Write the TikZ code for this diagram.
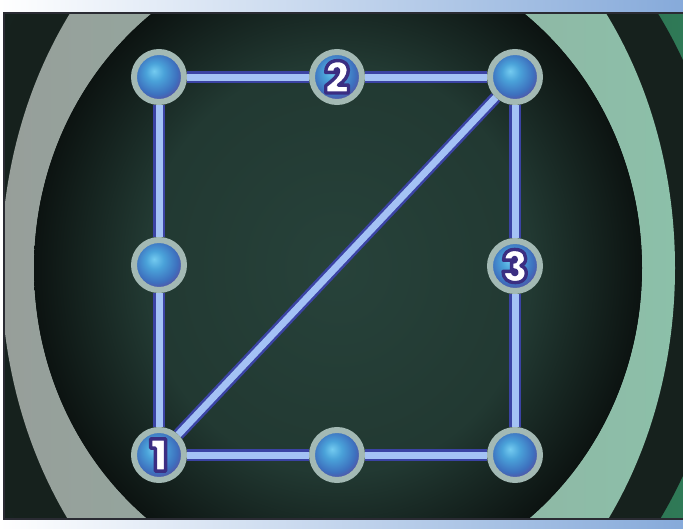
\documentclass[tikz,border=0pt]{standalone}
\usepackage{fontspec}
\newfontfamily\numfont{Poppins Black}
\definecolor{outerdark}{HTML}{16211D}
\definecolor{outergreen}{HTML}{2F7A57}
\definecolor{ringgrey}{HTML}{979E9A}
\definecolor{ringteal}{HTML}{8CC0A9}
\definecolor{holecore}{HTML}{27423A}
\definecolor{holeedge}{HTML}{0C1311}
\definecolor{rim}{HTML}{A3B9B4}
\definecolor{orbhi}{HTML}{74CBF0}
\definecolor{orbmid}{HTML}{4AA2D9}
\definecolor{orblow}{HTML}{3D70BE}
\definecolor{orbedge}{HTML}{5B4C9E}
\definecolor{tubeedge}{HTML}{3B43A4}
\definecolor{tubecore}{HTML}{A4C2F5}
\definecolor{stripblue}{HTML}{86AADA}
\definecolor{framedark}{HTML}{2A2B33}
\pgfdeclareradialshading{orb}{\pgfpoint{-5bp}{6bp}}{color(0bp)=(orbhi); color(9bp)=(orbmid); color(21bp)=(orblow); color(28bp)=(orbedge); color(50bp)=(orbedge)}
\pgfdeclareradialshading{hole}{\pgfpoint{0bp}{0bp}}{color(0bp)=(holecore); color(16bp)=(holecore!80!holeedge); color(25bp)=(holeedge); color(50bp)=(holeedge)}
\pgfdeclarelayer{back}
\pgfdeclarelayer{tubes}
\pgfsetlayers{back,tubes,main}
\tikzset{
  ball/.style={circle, minimum size=50pt, inner sep=0pt, shading=orb, draw=rim, line width=6pt},
  tube/.style={draw=tubeedge, line width=2.5pt, double=tubecore, double distance=7pt},
  num/.style={font=\numfont\fontsize{44}{44}\selectfont, text=white}
}
% white digit with a purple outline
\newcommand{\numlabel}[1]{\special{pdf:literal direct 2 Tr 3.4 w 1 j 0.23 0.18 0.51 RG}#1\special{pdf:literal direct 0 Tr}}
\begin{document}
\begin{tikzpicture}[x=1pt,y=-1pt]
  \useasboundingbox (0,0) rectangle (683,528);
  \begin{pgfonlayer}{back}
    \fill[white] (0,0) rectangle (683,528);
    % Scene behind the board
    \begin{scope}
      \clip (4,13) rectangle (683,519);
      \shade[left color=outerdark, right color=outergreen] (4,13) rectangle (683,519);
      \fill[outerdark] (338,268) ellipse [x radius=390pt, y radius=445pt];
      % Ring
      \shade[even odd rule, left color=ringgrey, right color=ringteal]
        (338,268) ellipse [x radius=337pt, y radius=420pt]
        (338,268) ellipse [x radius=304pt, y radius=322pt];
      \shade[shading=hole] (338,268) ellipse [x radius=304pt, y radius=322pt];
    \end{scope}
    % Frame
    \shade[left color=white, right color=stripblue] (0,0) rectangle (683,12);
    \shade[left color=white, right color=stripblue] (0,520) rectangle (683,528);
    \draw[framedark, line width=2pt] (683,13) -- (4,13) -- (4,519) -- (683,519);
  \end{pgfonlayer}
  % Balls
  \node[ball] (tl) at (159,77) {};
  \node[ball, num] (n2) at (337,77) {\numlabel{2}};
  \node[ball] (tr) at (515,77) {};
  \node[ball] (ml) at (159,265) {};
  \node[ball, num] (n3) at (515,266) {\numlabel{3}};
  \node[ball, num] (n1) at (159,455) {\numlabel{1}};
  \node[ball] (bm) at (337,455) {};
  \node[ball] (br) at (515,455) {};
  % Tubes
  \begin{pgfonlayer}{tubes}
    \draw[tube] (tl) -- (n2);
    \draw[tube] (n2) -- (tr);
    \draw[tube] (tl) -- (ml);
    \draw[tube] (ml) -- (n1);
    \draw[tube] (n1) -- (bm);
    \draw[tube] (bm) -- (br);
    \draw[tube] (tr) -- (n3);
    \draw[tube] (n3) -- (br);
    \draw[tube] (n1) -- (tr);
  \end{pgfonlayer}
\end{tikzpicture}
\end{document}
